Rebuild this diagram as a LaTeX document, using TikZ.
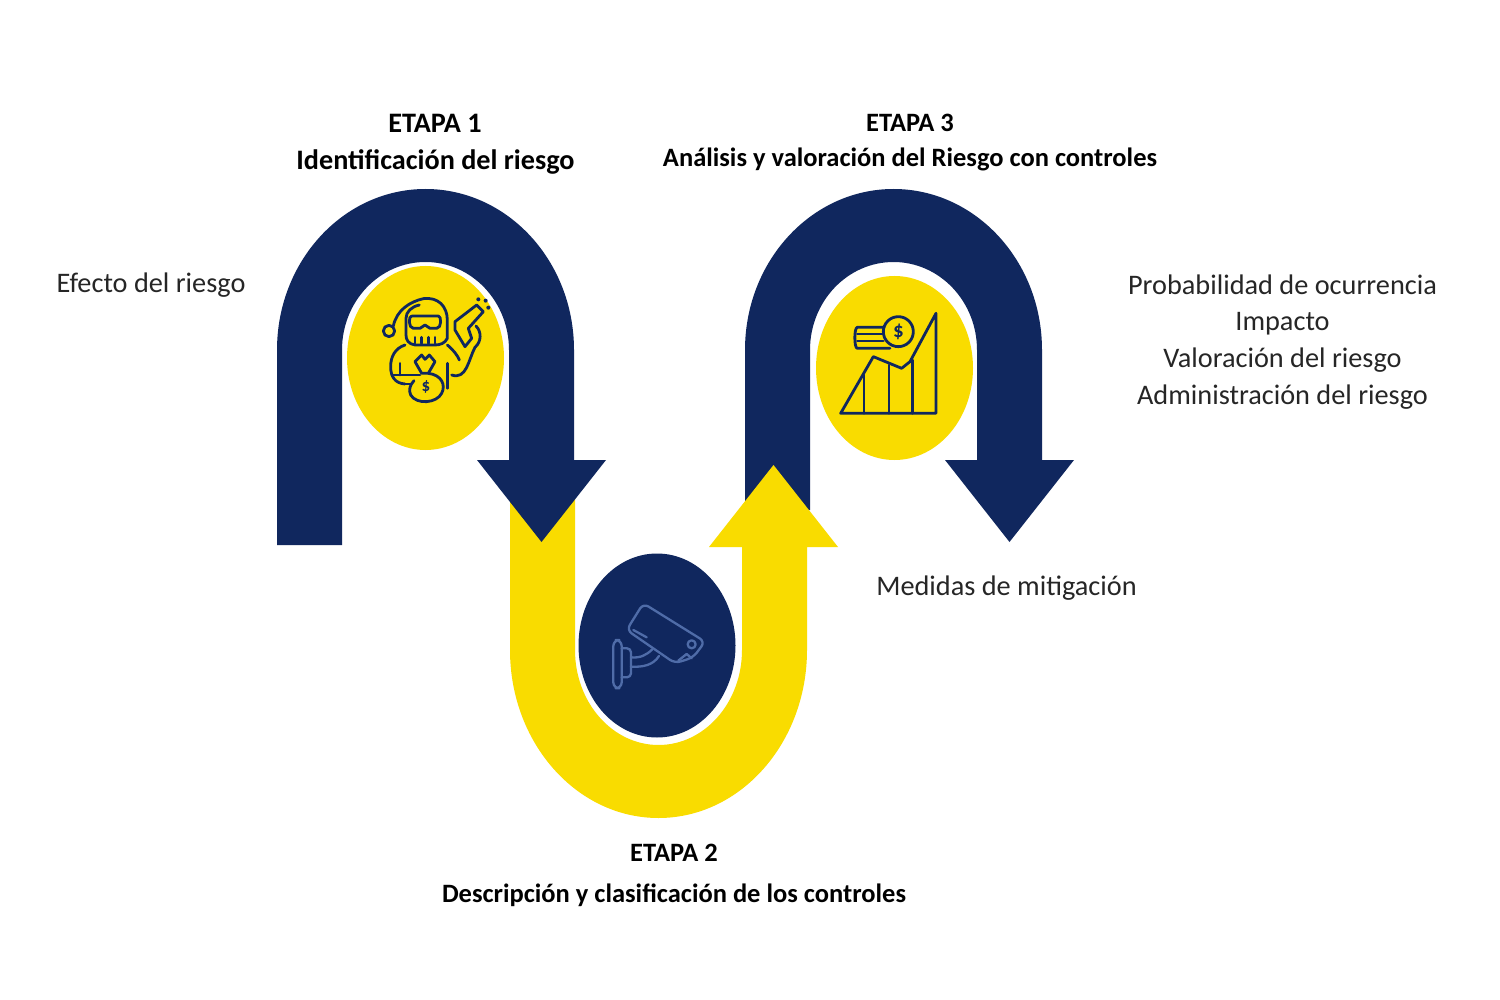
\documentclass[tikz,border=0pt]{standalone}
\usepackage{fontspec}
\setmainfont{Carlito}
\usetikzlibrary{shapes.geometric}
\definecolor{navy}{HTML}{10275E}
\definecolor{sun}{HTML}{F9DC00}
\definecolor{camline}{HTML}{4F6CA8}
\begin{document}
\begin{tikzpicture}[x=1pt,y=-1pt,
  lab/.style={inner sep=0pt,anchor=base,text=black!85,font=\fontsize{28.3}{30}\selectfont},
  head/.style={inner sep=0pt,anchor=base,text=black,font=\fontsize{26.5}{30}\selectfont\bfseries},
  headb/.style={inner sep=0pt,anchor=base,text=black,font=\fontsize{28.2}{30}\selectfont\bfseries},
  ico/.style={draw=navy,line width=2.8pt,line cap=round,line join=round},
  cam/.style={draw=camline,line width=2.3pt,line cap=round,line join=round},
  blob/.style={shape=ellipse,inner sep=0pt,minimum width=157pt,minimum height=184pt}]
\useasboundingbox (0,0) rectangle (1500,1000);
\fill[white] (0,0) rectangle (1500,1000);
% arch 3 (navy, under the yellow arrow)
\fill[navy] (745,510) -- (745,350) arc[start angle=180,end angle=360,x radius=148.5,y radius=161]
  -- (1042,460) -- (1074,460) -- (1009.5,542) -- (945,460) -- (977,460) -- (977,350)
  arc[start angle=360,end angle=180,x radius=83.5,y radius=88] -- (810,510) -- cycle;
% yellow U arrow
\fill[sun] (510,495) -- (510,650) arc[start angle=180,end angle=0,x radius=148.5,y radius=168]
  -- (807,547) -- (838,547) -- (773.5,465) -- (709,547) -- (742,547) -- (742,650)
  arc[start angle=0,end angle=180,x radius=83.5,y radius=95] -- (575,495) -- cycle;
% arch 1 (navy)
\fill[navy] (277,545) -- (277,350) arc[start angle=180,end angle=360,x radius=148.5,y radius=161]
  -- (574,460) -- (606,460) -- (541.5,542) -- (477,460) -- (509,460) -- (509,350)
  arc[start angle=360,end angle=180,x radius=83.5,y radius=88] -- (342,545) -- cycle;
% circles
\node[blob,fill=sun] (c1) at (425.5,358) {};
\node[blob,fill=sun] (c3) at (894.5,368) {};
\node[blob,fill=navy] (c2) at (657,645.5) {};
% icon 1
\begin{scope}[shift={(340,260)},x=0.3333pt,y=-0.3333pt]
  \draw[ico] (147,213) circle[radius=17];
  \draw[ico] (160,198) .. controls (170,150) and (210,125) .. (250,116) .. controls (295,110) and (322,140) .. (322,180) -- (322,235) .. controls (315,250) and (300,255) .. (285,255) -- (225,255) .. controls (205,252) and (198,240) .. (198,225) -- (198,175) .. controls (198,155) and (215,140) .. (238,135);
  \draw[ico] (215,168) -- (295,168) .. controls (305,168) and (305,205) .. (290,205) -- (270,205) -- (255,195) -- (240,205) -- (220,205) .. controls (205,205) and (205,168) .. (215,168);
  \draw[ico] (225,232) -- (225,250) (245,232) -- (245,250) (265,232) -- (265,250) (285,232) -- (285,250);
  \draw[ico] (195,255) .. controls (165,265) and (152,290) .. (152,320) .. controls (152,350) and (165,370) .. (195,372);
  \draw[ico] (322,255) .. controls (340,270) and (352,285) .. (358,300);
  \draw[ico] (265,340) .. controls (305,345) and (318,375) .. (305,400) .. controls (290,430) and (230,435) .. (212,405) .. controls (205,390) and (210,375) .. (222,362);
  \draw[ico] (245,340) -- (225,305) -- (245,285) -- (255,298) -- (268,285) -- (285,305) -- (265,340) -- cycle;
  \draw[ico] (180,310) -- (180,345) (155,345) -- (240,345) (195,372) -- (215,372);
  \draw[ico] (322,310) -- (322,385);
  \draw[ico] (335,345) .. controls (380,360) and (385,300) .. (405,262) .. controls (425,245) and (425,215) .. (408,198);
  \draw[ico] (345,185) -- (410,135) -- (430,155) -- (385,205) -- (395,235) -- (375,260) -- (345,210) -- cycle;
  \fill[navy] (415,118) circle[radius=6] (437,122) circle[radius=6] (445,143) circle[radius=6];
  \node[inner sep=0pt,text=navy,font=\fontsize{17}{17}\selectfont\bfseries] (dollar1) at (258,382) {\$};
\end{scope}
% icon 3
\begin{scope}[shift={(810,270)},x=0.3333pt,y=-0.3333pt]
  \draw[ico] (92,430) -- (378,430) -- (378,130) -- (300,275) -- (275,295) -- (190,260) -- cycle;
  \draw[ico] (162,315) -- (162,430) (237,285) -- (237,430) (307,270) -- (307,430);
  \draw[ico] (265,185) circle[radius=45];
  \draw[ico] (222,172) -- (142,172) .. controls (132,172) and (132,235) .. (142,235) -- (240,235);
  \draw[ico] (142,192) -- (218,192) (142,213) -- (220,213);
  \node[inner sep=0pt,text=navy,font=\fontsize{21}{21}\selectfont\bfseries] (dollar3) at (265,185) {\$};
\end{scope}
% icon 2
\begin{scope}[shift={(575,550)},x=0.3333pt,y=-0.3333pt]
  \draw[cam,rounded corners=6pt] (205,160) -- (390,275) -- (355,322) -- (300,340) -- (155,240) -- cycle;
  \draw[cam] (350,283) circle[radius=12];
  \draw[cam] (175,240) -- (215,262);
  \draw[cam] (310,332) -- (335,312) -- (350,325);
  \draw[cam,rounded corners=6pt] (115,270) -- (140,270) -- (140,415) -- (115,415) -- cycle;
  \draw[cam,rounded corners=4pt] (140,295) -- (168,295) -- (168,382) -- (140,382);
  \draw[cam] (168,322) .. controls (195,325) and (215,315) .. (232,298);
  \draw[cam] (168,350) .. controls (205,352) and (235,345) .. (252,318);
\end{scope}
% labels
\node[headb] (e1) at (435,133) {ETAPA 1};
\node[headb] (t1) at (435.5,170) {Identificación del riesgo};
\node[head] (e3) at (910,132) {ETAPA 3};
\node[head] (t3) at (910,167) {Análisis y valoración del Riesgo con controles};
\node[head] (e2) at (674,861) {ETAPA 2};
\node[head] (t2) at (674,902) {Descripción y clasificación de los controles};
\node[lab] (l1) at (151,293) {Efecto del riesgo};
\node[lab] (l2) at (1282.5,295) {Probabilidad de ocurrencia};
\node[lab] (l3) at (1282.5,331) {Impacto};
\node[lab] (l4) at (1282.5,367) {Valoración del riesgo};
\node[lab] (l5) at (1282.5,404) {Administración del riesgo};
\node[lab] (l6) at (1006.5,595) {Medidas de mitigación};
\end{tikzpicture}
\end{document}
